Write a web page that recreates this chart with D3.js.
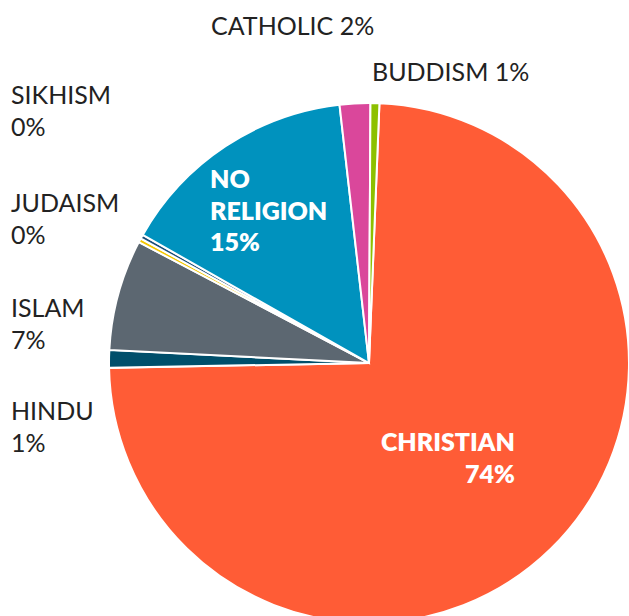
<!DOCTYPE html>
<html>
<head>
<meta charset="utf-8">
<script src="https://cdn.jsdelivr.net/npm/d3@7"></script>
<style>
  html, body { margin: 0; padding: 0; background: #fff; }
  svg { display: block; }
  text { font-family: Lato, "Open Sans", sans-serif; }
</style>
</head>
<body>
<svg id="chart" width="629" height="616"></svg>
<script>
// ---- data ----
const categories = ["CHRISTIAN", "HINDU", "ISLAM", "JUDAISM", "SIKHISM", "NO RELIGION", "CATHOLIC", "BUDDISM"];
const values = [74.1, 1.1, 6.9, 0.25, 0.25, 15.0, 1.9, 0.55];
const percentLabels = ["74%", "1%", "7%", "0%", "0%", "15%", "2%", "1%"];
const colors = ["#FF5C36", "#004F6B", "#5C6771", "#F5C800", "#1E4E79", "#0092BE", "#DA479B", "#8DC000"];

const svg = d3.select("#chart");
const cx = 369, cy = 363, radius = 260;
const start = 2.3 * Math.PI / 180;

const data = categories.map((c, i) => ({ name: c, value: values[i], pct: percentLabels[i], color: colors[i] }));

const pie = d3.pie().sort(null).value(d => d.value).startAngle(start).endAngle(start + 2 * Math.PI);
const arc = d3.arc().innerRadius(0).outerRadius(radius);

const g = svg.append("g").attr("transform", `translate(${cx},${cy})`);
g.selectAll("path")
  .data(pie(data))
  .join("path")
  .attr("d", arc)
  .attr("fill", d => d.data.color)
  .attr("stroke", "#fff")
  .attr("stroke-width", 2)
  .attr("stroke-linejoin", "miter");

// ---- labels ----
const byName = Object.fromEntries(data.map(d => [d.name, d]));
const outside = [
  { name: "CATHOLIC", lines: ["CATHOLIC " + byName["CATHOLIC"].pct], x: 211, y: 35 },
  { name: "BUDDISM", lines: ["BUDDISM " + byName["BUDDISM"].pct], x: 372, y: 81 },
  { name: "SIKHISM", lines: ["SIKHISM", byName["SIKHISM"].pct], x: 11, y: 104 },
  { name: "JUDAISM", lines: ["JUDAISM", byName["JUDAISM"].pct], x: 11, y: 212 },
  { name: "ISLAM", lines: ["ISLAM", byName["ISLAM"].pct], x: 11, y: 317 },
  { name: "HINDU", lines: ["HINDU", byName["HINDU"].pct], x: 11, y: 420 }
];
outside.forEach(l => {
  const t = svg.append("text")
    .attr("x", l.x).attr("y", l.y)
    .attr("font-size", 25).attr("fill", "#222");
  l.lines.forEach((s, i) => {
    t.append("tspan").attr("x", l.x).attr("y", l.y + i * 32).text(s);
  });
});

const inside = [
  { lines: ["NO", "RELIGION", byName["NO RELIGION"].pct], x: 210, y: 188, anchor: "start" },
  { lines: ["CHRISTIAN", byName["CHRISTIAN"].pct], x: 515, y: 451, anchor: "end" }
];
inside.forEach(l => {
  const t = svg.append("text")
    .attr("font-size", 25).attr("font-weight", 800).attr("fill", "#fff")
    .attr("text-anchor", l.anchor);
  l.lines.forEach((s, i) => {
    t.append("tspan").attr("x", l.x).attr("y", l.y + i * 31.5).text(s);
  });
});
</script>
</body>
</html>
